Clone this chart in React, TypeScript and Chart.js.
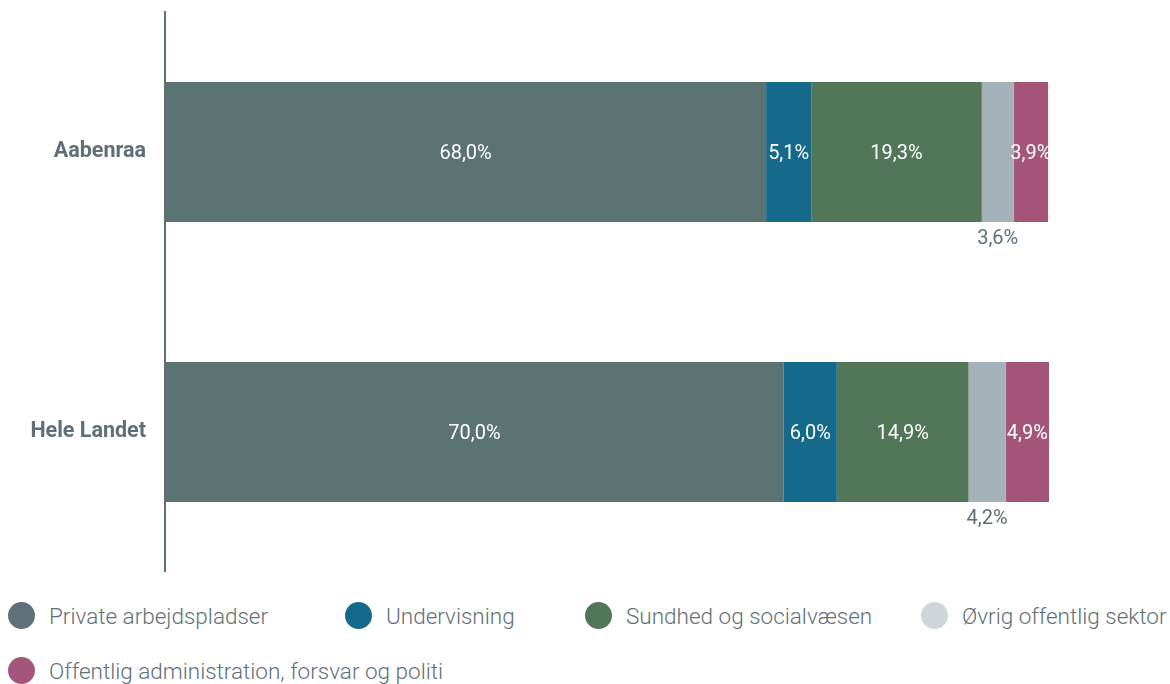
import React, { useEffect, useRef } from "react";
import { Chart, registerables } from "chart.js";

Chart.register(...registerables);

const categories = ["Aabenraa", "Hele Landet"];
const seriesNames = [
  "Private arbejdspladser",
  "Undervisning",
  "Sundhed og socialvæsen",
  "Øvrig offentlig sektor",
  "Offentlig administration, forsvar og politi",
];
const privateValues = [68.0, 70.0];
const undervisningValues = [5.1, 6.0];
const sundhedValues = [19.3, 14.9];
const oevrigValues = [3.6, 4.2];
const offentligValues = [3.9, 4.9];

const barColors = ["#5b7473", "#156a8c", "#527658", "#a3b1b8", "#a5557a"];
const legendColors = ["#5f707a", "#156a8c", "#527658", "#ced6da", "#a5557a"];
const legendOffsets = [0, 337, 577, 913];

const TEXT_GREY = "#5f6f78";

const labelPlugin = {
  id: "segmentLabels",
  afterDatasetsDraw(chart: any) {
    const ctx = chart.ctx;
    ctx.save();
    ctx.font = "400 20px Roboto";
    ctx.textAlign = "center";
    ctx.textBaseline = "middle";
    chart.data.datasets.forEach((ds: any, di: number) => {
      const meta = chart.getDatasetMeta(di);
      meta.data.forEach((bar: any, i: number) => {
        const v = ds.data[i] as number;
        const txt = v.toFixed(1).replace(".", ",") + "%";
        const cx = (bar.x + bar.base) / 2;
        if (di === 3) {
          ctx.fillStyle = TEXT_GREY;
          ctx.fillText(txt, cx, bar.y + bar.height / 2 + 17);
        } else {
          ctx.fillStyle = "#ffffff";
          ctx.fillText(txt, cx, bar.y + 2);
        }
      });
    });
    ctx.restore();
  },
};

export default function App() {
  const ref = useRef<HTMLCanvasElement>(null);
  useEffect(() => {
    document.documentElement.style.overflow = "hidden";
    document.body.style.margin = "8px 0 0 8px";
    if (!ref.current) return;
    const allValues = [privateValues, undervisningValues, sundhedValues, oevrigValues, offentligValues];
    const chart = new Chart(ref.current, {
      type: "bar",
      data: {
        labels: categories,
        datasets: allValues.map((vals, i) => ({
          label: seriesNames[i],
          data: vals,
          backgroundColor: barColors[i],
          borderWidth: 0,
          categoryPercentage: 1,
          barPercentage: 0.5,
        })),
      },
      options: {
        indexAxis: "y",
        animation: false,
        responsive: true,
        maintainAspectRatio: false,
        layout: { padding: { top: 4, right: 113, bottom: 0, left: 0 } },
        plugins: { legend: { display: false }, tooltip: { enabled: false } },
        scales: {
          x: { stacked: true, min: 0, max: 100, display: false },
          y: {
            stacked: true,
            afterFit: (s: any) => {
              s.width = 157;
              s.paddingTop = 0;
              s.paddingBottom = 0;
            },
            grid: { display: false, drawTicks: false },
            border: { display: true, color: "#5e7474", width: 2 },
            ticks: {
              padding: 19,
              color: TEXT_GREY,
              font: { family: "Roboto", size: 21.5, weight: "bold" },
            },
          },
        },
      },
      plugins: [labelPlugin],
    } as any);
    return () => chart.destroy();
  }, []);

  const legendItem = (i: number) => (
    <div key={i} style={{ display: "flex", alignItems: "center", whiteSpace: "nowrap", width: "max-content" }}>
      <span
        style={{
          width: 27,
          height: 27,
          borderRadius: "50%",
          background: legendColors[i],
          display: "inline-block",
          marginRight: 14,
          flexShrink: 0,
        }}
      />
      <span style={{ fontFamily: "Roboto", fontWeight: 300, fontSize: 22.5, color: TEXT_GREY, flexShrink: 0 }}>
        {seriesNames[i]}
      </span>
    </div>
  );

  return (
    <div style={{ width: 1162 }}>
      <div style={{ position: "relative", width: 1154, height: 564 }}>
        <canvas ref={ref} />
      </div>
      <div style={{ position: "relative", marginTop: 30, height: 27 }}>
        {legendOffsets.map((off, i) => (
          <div key={i} style={{ position: "absolute", left: off, top: 0, width: "max-content" }}>
            {legendItem(i)}
          </div>
        ))}
      </div>
      <div style={{ position: "relative", marginTop: 28, height: 27 }}>
        <div style={{ position: "absolute", left: 0, top: 0, width: "max-content" }}>{legendItem(4)}</div>
      </div>
    </div>
  );
}
